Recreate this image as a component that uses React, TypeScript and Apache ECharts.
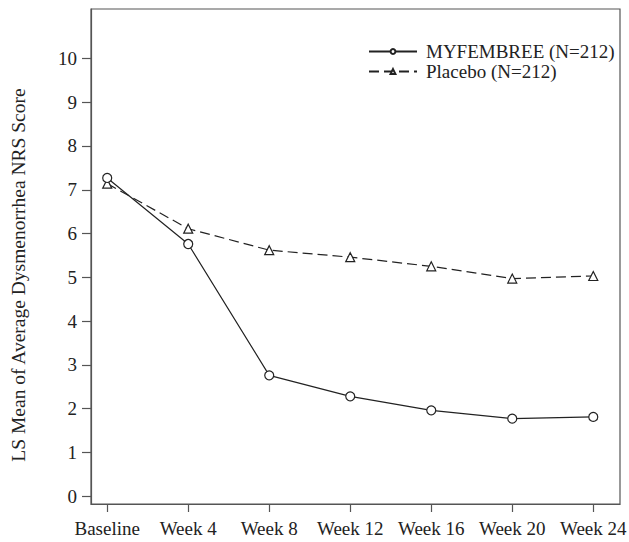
import React, { useEffect, useRef } from "react";
import * as echarts from "echarts";

const categories = ["Baseline", "Week 4", "Week 8", "Week 12", "Week 16", "Week 20", "Week 24"];
const myfembree = [7.27, 5.76, 2.76, 2.28, 1.96, 1.77, 1.81];
const placebo = [7.14, 6.11, 5.62, 5.46, 5.25, 4.97, 5.03];
const yTicks = [0, 1, 2, 3, 4, 5, 6, 7, 8, 9, 10];
const seriesNames = ["MYFEMBREE (N=212)", "Placebo (N=212)"];
const yTitle = "LS Mean of Average Dysmenorrhea NRS Score";

const FONT = "'Liberation Serif', serif";
const INK = "#222";
const AXIS = "#555";

export default function App() {
  const ref = useRef<HTMLDivElement>(null);
  useEffect(() => {
    if (!ref.current) return;
    const chart = echarts.init(ref.current, undefined, { renderer: "svg" });
    const xIdx = categories.map((_, i) => i);
    chart.setOption({
      animation: false,
      textStyle: { fontFamily: FONT },
      grid: {
        left: 91,
        right: 9,
        top: 9,
        bottom: 38,
        outerBoundsMode: "none",
        containLabel: false,
        show: true,
        borderColor: AXIS,
        borderWidth: 1.2,
        backgroundColor: "transparent",
      },
      legend: {
        orient: "vertical",
        left: 363,
        top: 37,
        itemWidth: 48,
        itemHeight: 6,
        itemGap: 1,
        textStyle: { fontFamily: FONT, fontSize: 19, lineHeight: 18, color: "#222", padding: [0, 0, 0, 4] },
        data: seriesNames,
      },
      xAxis: {
        type: "value",
        min: -0.2,
        max: 6.33,
        axisLine: { show: true, onZero: false, lineStyle: { color: AXIS, width: 1.2 } },
        axisTick: {
          show: true,
          length: 8,
          customValues: xIdx,
          lineStyle: { color: AXIS, width: 1.2 },
        },
        axisLabel: {
          customValues: xIdx,
          margin: 15,
          fontFamily: FONT,
          fontSize: 19,
          color: "#222",
          formatter: (v: number) => categories[Math.round(v)] ?? "",
        },
        splitLine: { show: false },
      },
      yAxis: {
        type: "value",
        min: -0.18,
        max: 11.13,
        axisLine: { show: true, onZero: false, lineStyle: { color: AXIS, width: 1.2 } },
        axisTick: {
          show: true,
          length: 9,
          customValues: yTicks,
          lineStyle: { color: AXIS, width: 1.2 },
        },
        axisLabel: {
          customValues: yTicks,
          margin: 14,
          fontFamily: FONT,
          fontSize: 19,
          color: "#222",
        },
        splitLine: { show: false },
      },
      graphic: [
        {
          type: "text",
          x: 18,
          y: 275,
          rotation: Math.PI / 2,
          style: {
            text: yTitle,
            fontFamily: FONT,
            fontSize: 19.5,
            fill: "#222",
            textAlign: "center",
            textVerticalAlign: "middle",
          },
        },
      ],
      series: [
        {
          name: seriesNames[0],
          type: "line",
          data: myfembree.map((v, i) => [i, v]),
          symbol: "circle",
          symbolSize: 9,
          lineStyle: { color: INK, width: 1.2, type: "solid" },
          itemStyle: { color: "#fff", borderColor: INK, borderWidth: 1.2 },
          z: 3,
        },
        {
          name: seriesNames[1],
          type: "line",
          data: placebo.map((v, i) => [i, v]),
          symbol: "triangle",
          symbolSize: 9,
          lineStyle: { color: INK, width: 1.2, type: [10, 5] },
          itemStyle: { color: "#fff", borderColor: INK, borderWidth: 1.2 },
          z: 2,
        },
      ],
    });
    return () => chart.dispose();
  }, []);
  return (
    <div
      ref={ref}
      style={{ position: "fixed", left: 0, top: 0, width: 629, height: 542, background: "#fff" }}
    />
  );
}
